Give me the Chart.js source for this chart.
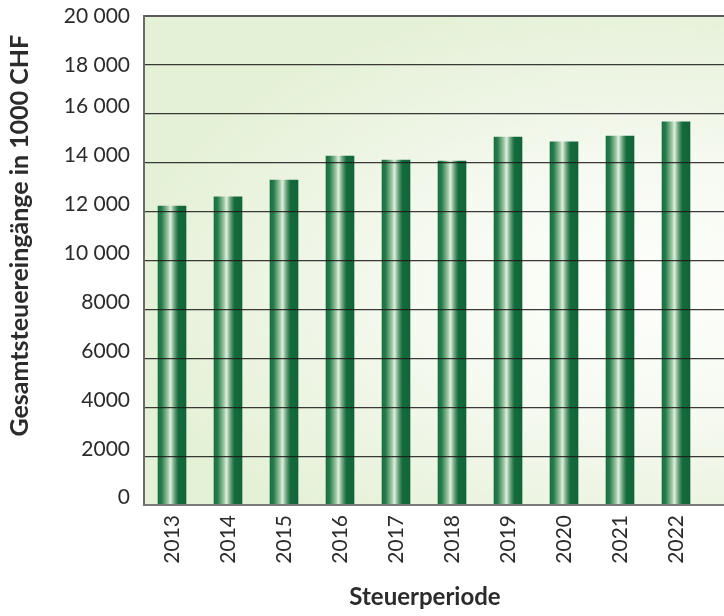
<!DOCTYPE html>
<html>
<head>
<meta charset="utf-8">
<script src="https://cdn.jsdelivr.net/npm/chart.js@4/dist/chart.umd.min.js"></script>
<style>
html,body{margin:0;padding:0;background:#fff;overflow:hidden}
#wrap{width:724px;height:616px}
</style>
</head>
<body>
<div id="wrap"><canvas id="c" width="724" height="616"></canvas></div>
<script>
// ---- data ----
const years = [2013, 2014, 2015, 2016, 2017, 2018, 2019, 2020, 2021, 2022];
const values = [12230, 12600, 13290, 14270, 14110, 14070, 15050, 14850, 15090, 15670];
const yTickValues = [0, 2000, 4000, 6000, 8000, 10000, 12000, 14000, 16000, 18000, 20000];
const yTickLabels = ['0', '2000', '4000', '6000', '8000', '10 000', '12 000', '14 000', '16 000', '18 000', '20 000'];
const xTitle = 'Steuerperiode';
const yTitle = 'Gesamtsteuereingänge in 1000 CHF';

const FONT = "Lato, 'Open Sans', sans-serif";
const TXT = '#2b2b2b';

const bgPlugin = {
  id: 'bgGradient',
  beforeDraw(chart) {
    const {ctx, chartArea: a} = chart;
    const w = a.right - a.left, h = a.bottom - a.top;
    const cx = a.left + 0.87 * w, cy = a.top + 0.56 * h;
    const rx = 0.9 * w, ry = 0.6 * h;
    ctx.save();
    ctx.beginPath();
    ctx.rect(a.left, a.top, w, h);
    ctx.clip();
    ctx.translate(cx, cy);
    ctx.scale(rx / ry, 1);
    const g = ctx.createRadialGradient(0, 0, 0, 0, 0, ry);
    g.addColorStop(0, '#fdfefb');
    g.addColorStop(0.4, '#f7faf2');
    g.addColorStop(0.75, '#ecf4e2');
    g.addColorStop(1, '#e5f1d7');
    ctx.fillStyle = g;
    ctx.fillRect(-cx - 2000, -cy - 2000, 6000, 6000);
    ctx.restore();
  }
};

function barFill(context) {
  const chart = context.chart;
  if (!chart.chartArea || !chart.scales.x) return '#146b3d';
  const xc = chart.scales.x.getPixelForValue(years[context.dataIndex]);
  const half = 14;
  const g = chart.ctx.createLinearGradient(xc - half, 0, xc + half, 0);
  g.addColorStop(0, '#1b7042');
  g.addColorStop(0.12, '#247a4a');
  g.addColorStop(0.3, '#80b68c');
  g.addColorStop(0.45, '#dfeddc');
  g.addColorStop(0.58, '#6fa67f');
  g.addColorStop(0.72, '#166b3d');
  g.addColorStop(1, '#0f6638');
  return g;
}

new Chart(document.getElementById('c'), {
  type: 'bar',
  data: {
    datasets: [{
      data: years.map((y, i) => ({x: y, y: values[i]})),
      backgroundColor: barFill,
      borderWidth: 0,
      barThickness: 28
    }]
  },
  options: {
    responsive: false,
    animation: false,
    devicePixelRatio: 1,
    layout: {padding: {top: 16, right: 0, bottom: 0, left: 0}},
    plugins: {legend: {display: false}, tooltip: {enabled: false}},
    scales: {
      x: {
        type: 'linear',
        offset: false,
        min: 2012.5,
        max: 2012.5 + 580 / 56,
        afterBuildTicks: (s) => { s.ticks = years.map(v => ({value: v})); },
        afterFit: (s) => { s.height = 111; s.paddingLeft = 0; s.paddingRight = 0; },
        grid: {display: false, drawTicks: false},
        border: {display: true, color: '#7a7a7a', width: 2, z: 2},
        ticks: {
          autoSkip: false,
          maxRotation: 90,
          minRotation: 90,
          padding: 10,
          color: TXT,
          font: {family: FONT, size: 21},
          callback: (v) => String(v)
        },
        title: {
          display: true,
          text: xTitle + '\u2003',
          color: TXT,
          font: {family: FONT, size: 24, weight: 'bold'},
          padding: {top: 0, bottom: 4}
        }
      },
      y: {
        min: 0,
        max: 20000,
        afterBuildTicks: (s) => { s.ticks = yTickValues.map(v => ({value: v})); },
        afterFit: (s) => { s.width = 144; s.paddingTop = 0; s.paddingBottom = 0; },
        grid: {
          z: 1,
          drawTicks: false,
          color: (c) => (c.tick && c.tick.value === 20000) ? '#5a5a5a' : 'rgba(25,25,25,0.85)',
          lineWidth: (c) => (c.tick && (c.tick.value === 20000)) ? 2 : 1.2
        },
        border: {display: true, color: '#6a6a6a', width: 2, z: 2},
        ticks: {
          padding: 14,
          color: TXT,
          font: {family: FONT, size: 21, lineHeight: 0.7},
          callback: (v) => {
            const l = yTickLabels[yTickValues.indexOf(v)];
            return v <= 16000 ? [l, ''] : l;
          }
        },
        title: {
          display: true,
          text: yTitle + '\u2002\u2005',
          align: 'end',
          color: TXT,
          font: {family: FONT, size: 25, weight: 'bold'},
          padding: {top: 5, bottom: 0}
        }
      }
    }
  },
  plugins: [bgPlugin]
});
</script>
</body>
</html>
